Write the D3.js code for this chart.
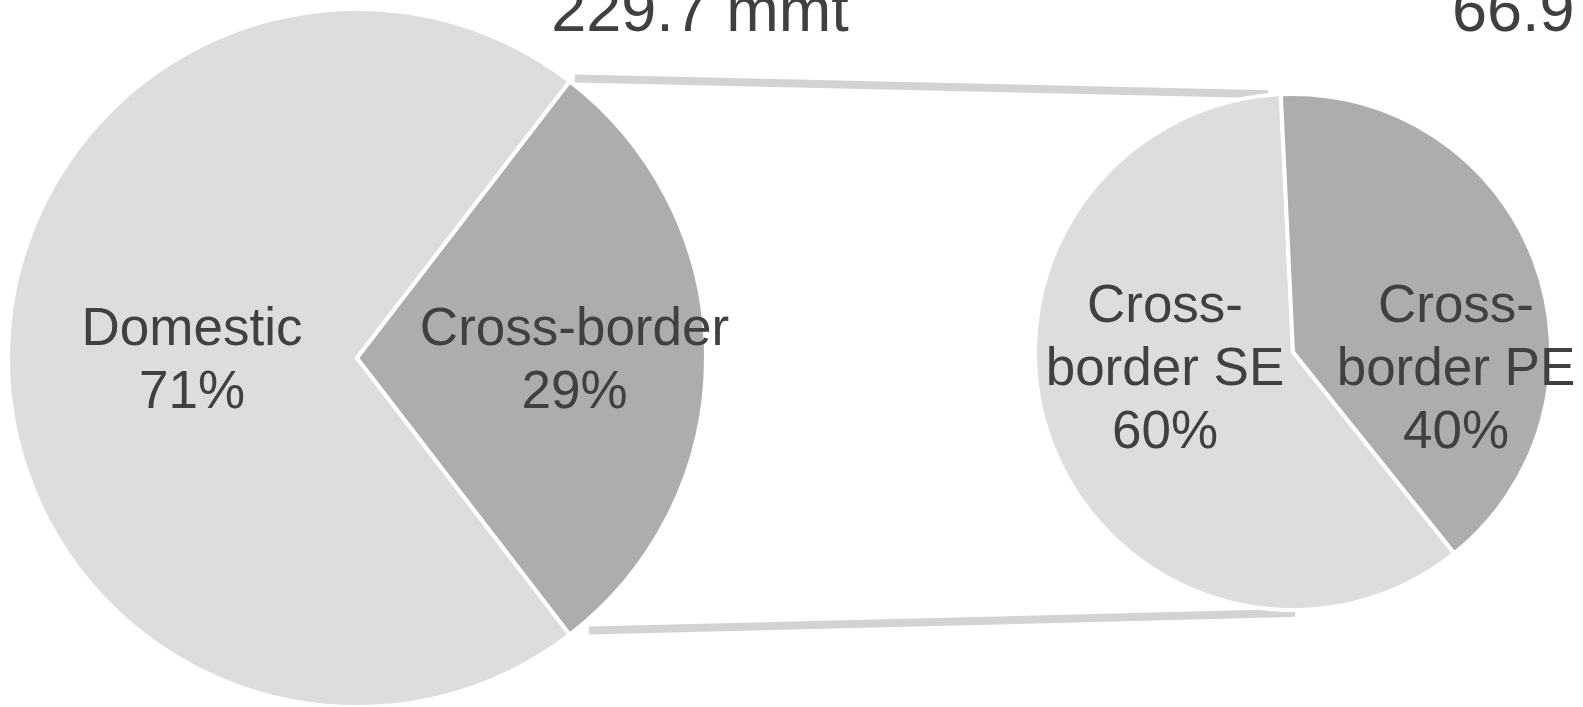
<!DOCTYPE html>
<html>
<head>
<meta charset="utf-8">
<script src="https://cdn.jsdelivr.net/npm/d3@7"></script>
<style>
  html, body { margin: 0; padding: 0; background: #ffffff; overflow: hidden; }
  svg { display: block; font-family: "Liberation Sans", Arial, sans-serif; }
</style>
</head>
<body>
<svg id="chart" width="1583" height="707"></svg>
<script>
// Primary split of total volume (mmt)
const primaryCategories = ["Domestic", "Cross-border"];
const primaryValues = [162.8, 66.9];
const primaryLabelLines = [["Domestic"], ["Cross-border"]];

// Breakdown of the cross-border share (%)
const secondaryCategories = ["Cross-border SE", "Cross-border PE"];
const secondaryValues = [60, 40];
const secondaryLabelLines = [["Cross-", "border SE"], ["Cross-", "border PE"]];

const unit = "mmt";

// ---- layout ----
const W = 1583, H = 707;
const svg = d3.select("#chart");
const deg = Math.PI / 180;

const left = { cx: 357, cy: 358, r: 349 };
const right = { cx: 1293, cy: 352, r: 258 };

const fills = ["#dddddd", "#adadad"];
const textColor = "#404040";
const fontSize = 53;
const lineHeight = 63;
const capHalf = 0.716 * fontSize / 2;

const total = d3.sum(primaryValues);
const fmtPct = d3.format(".0%");

// Primary pie: cross-border wedge centred on 3 o'clock
const crossSpan = primaryValues[1] / total * 2 * Math.PI;
const primaryPie = d3.pie().sort(null).value(d => d)
  .startAngle(Math.PI / 2 + crossSpan / 2)
  .endAngle(Math.PI / 2 + crossSpan / 2 + 2 * Math.PI);
const primaryArcs = primaryPie(primaryValues);

// Secondary pie: PE wedge begins just left of 12 o'clock
const peStart = -2.7 * deg;
const secTotal = d3.sum(secondaryValues);
const seSpan = secondaryValues[0] / secTotal * 2 * Math.PI;
const secondaryPie = d3.pie().sort(null).value(d => d)
  .startAngle(peStart - seSpan)
  .endAngle(peStart - seSpan + 2 * Math.PI);
const secondaryArcs = secondaryPie(secondaryValues);

const polar = (c, a) => [c.cx + c.r * Math.sin(a), c.cy - c.r * Math.cos(a)];

// Connector lines between the two pies
const crossArc = primaryArcs[1];
const upStart = polar(left, crossArc.startAngle);
const lowStart = polar(left, crossArc.endAngle);
const upEnd = polar(right, -5.5 * deg);
const lowEnd = polar(right, Math.PI);
const connectors = [
  [[upStart[0] + 5, upStart[1] - 3], [upEnd[0], upEnd[1] - 1]],
  [[lowStart[0] + 19, lowStart[1] - 4], [lowEnd[0] + 2, lowEnd[1] + 3]]
];
svg.append("g").selectAll("line").data(connectors).join("line")
  .attr("x1", d => d[0][0]).attr("y1", d => d[0][1])
  .attr("x2", d => d[1][0]).attr("y2", d => d[1][1])
  .attr("stroke", "#d3d3d3").attr("stroke-width", 8);

// Draw a pie with white slice separators
function drawPie(c, arcs, cats) {
  const arc = d3.arc().innerRadius(0).outerRadius(c.r);
  const g = svg.append("g").attr("transform", `translate(${c.cx},${c.cy})`);
  g.selectAll("path").data(arcs).join("path")
    .attr("d", arc)
    .attr("fill", (d, i) => fills[i])
    .attr("stroke", "#ffffff")
    .attr("stroke-width", 4)
    .attr("stroke-linejoin", "miter")
    .append("title").text((d, i) => cats[i]);
  return g;
}
drawPie(left, primaryArcs, primaryCategories);
drawPie(right, secondaryArcs, secondaryCategories);

// Multi-line data labels centred on a point
function drawLabel(x, yMid, lines) {
  const n = lines.length;
  const t = svg.append("text")
    .attr("text-anchor", "middle")
    .attr("fill", textColor)
    .attr("font-size", fontSize);
  lines.forEach((s, i) => {
    t.append("tspan")
      .attr("x", x)
      .attr("y", yMid - (n - 1) * lineHeight / 2 + i * lineHeight + capHalf)
      .text(s);
  });
}

const primaryLabelOffsets = [[-165, 0], [217.5, 0]];
primaryArcs.forEach((a, i) => {
  const o = primaryLabelOffsets[i];
  drawLabel(left.cx + o[0], left.cy + o[1],
    primaryLabelLines[i].concat([fmtPct(primaryValues[i] / total)]));
});

const secondaryLabelOffsets = [[-128, 14.5], [163, 14.5]];
secondaryArcs.forEach((a, i) => {
  const o = secondaryLabelOffsets[i];
  drawLabel(right.cx + o[0], right.cy + o[1],
    secondaryLabelLines[i].concat([fmtPct(secondaryValues[i] / secTotal)]));
});

// Volume headers above each pie
const header = svg.append("g").attr("fill", textColor).attr("font-size", 63);
header.append("text").attr("x", 700).attr("y", 31).attr("text-anchor", "middle")
  .text(`${d3.format(".1f")(total)} ${unit}`);
header.append("text").attr("x", 1452).attr("y", 31).attr("text-anchor", "start")
  .text(`${d3.format(".1f")(primaryValues[1])} ${unit}`);
</script>
</body>
</html>
